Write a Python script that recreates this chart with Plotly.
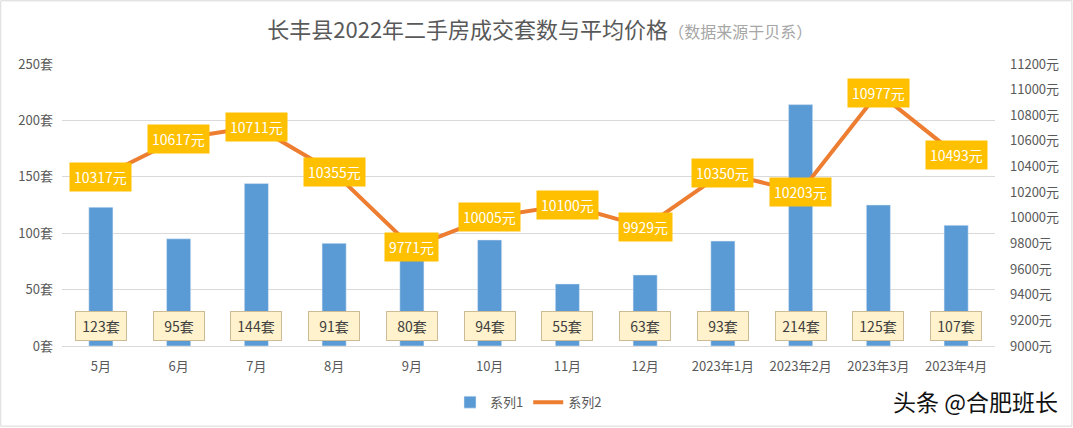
import plotly.graph_objects as go

categories = ["5月", "6月", "7月", "8月", "9月", "10月", "11月", "12月",
              "2023年1月", "2023年2月", "2023年3月", "2023年4月"]
counts = [123, 95, 144, 91, 80, 94, 55, 63, 93, 214, 125, 107]
prices = [10317, 10617, 10711, 10355, 9771, 10005, 10100, 9929, 10350, 10203, 10977, 10493]

left_ticks = [0, 50, 100, 150, 200, 250]
right_ticks = list(range(9000, 11201, 200))

FONT = "Noto Sans CJK SC, Microsoft YaHei, sans-serif"
GRAY = "#595959"

fig = go.Figure()
fig.add_trace(go.Bar(x=categories, y=counts, name="系列1", marker_color="#5B9BD5",
                     yaxis="y"))
fig.add_trace(go.Scatter(x=categories, y=prices, name="系列2", mode="lines",
                         line=dict(color="#ED7D31", width=4), yaxis="y2"))

W, H = 1073, 428
L, R, T, B = 62, 78, 64, 81
pw = W - L - R
ph = H - T - B

ann = []
for c, v in zip(categories, counts):
    ann.append(dict(x=c, y=17.5, xref="x", yref="y", text=f"{v}套", showarrow=False,
                    font=dict(size=14, color="#404040", family=FONT),
                    width=40, height=18,
                    bgcolor="#FFF2CC", bordercolor="#CDBB95", borderwidth=1, borderpad=5))
for c, p in zip(categories, prices):
    ann.append(dict(x=c, y=p, xref="x", yref="y2", text=f"{p}元", showarrow=False,
                    font=dict(size=14, color="white", family=FONT),
                    bgcolor="#FFC000", borderpad=4))
ann.append(dict(x=(1060 - L) / pw, y=-0.195, xref="paper", yref="paper",
                xanchor="right", yanchor="middle",
                text="头条 @合肥班长", showarrow=False,
                font=dict(size=23, color="#111111", family=FONT)))

fig.update_layout(
    width=W, height=H,
    margin=dict(l=L, r=R, t=T, b=B),
    paper_bgcolor="white", plot_bgcolor="white",
    font=dict(family=FONT, color=GRAY, size=13),
    title=dict(text="长丰县2022年二手房成交套数与平均价格"
                    "<span style='font-size:16px;color:#A6A6A6'>（数据来源于贝系）</span>",
               x=0.503, xanchor="center", y=0.93, yanchor="middle",
               font=dict(size=22, color="#595959", family=FONT)),
    bargap=0.69,
    xaxis=dict(showgrid=False, showline=True, linecolor="#D9D9D9", ticks="",
               tickfont=dict(size=13, color=GRAY), ticklabelstandoff=8),
    yaxis=dict(range=[0, 250], tickvals=left_ticks, ticktext=[f"{t}套" for t in left_ticks],
               showgrid=True, gridcolor="#D9D9D9", zeroline=False,
               tickfont=dict(size=13, color=GRAY), ticklabelstandoff=8),
    yaxis2=dict(range=[9000, 11200], overlaying="y", side="right",
                tickvals=right_ticks, ticktext=[f"{t}元" for t in right_ticks],
                showgrid=False, zeroline=False,
                tickfont=dict(size=13, color=GRAY), ticklabelstandoff=14),
    legend=dict(orientation="h", x=0.5, xanchor="center", y=-0.195, yanchor="middle",
                font=dict(size=13, color=GRAY), traceorder="normal"),
    annotations=ann,
    shapes=[dict(type="rect", xref="paper", yref="paper",
                 x0=-L / pw + 0.0008, x1=(W - L) / pw - 0.0012,
                 y0=-B / ph + 0.002, y1=(H - B) / ph - 0.002,
                 line=dict(color="#D9D9D9", width=1))],
)

fig.write_html("out.html")
